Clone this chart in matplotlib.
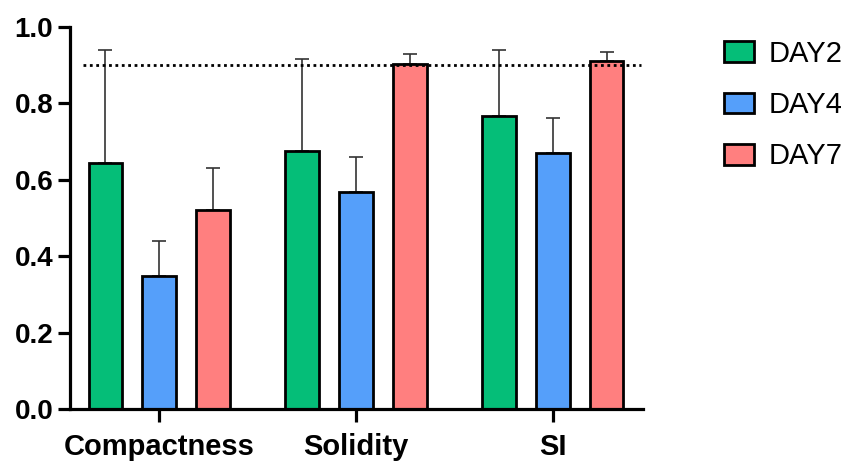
import matplotlib
matplotlib.use("Agg")
import matplotlib.pyplot as plt
import numpy as np

plt.rcParams['font.family'] = ['Liberation Sans', 'DejaVu Sans']

categories = ["Compactness", "Solidity", "SI"]
series = ["DAY2", "DAY4", "DAY7"]
day2 = [0.645, 0.675, 0.768]
day4 = [0.349, 0.569, 0.671]
day7 = [0.521, 0.902, 0.911]
day2_err = [0.296, 0.241, 0.173]
day4_err = [0.090, 0.091, 0.090]
day7_err = [0.109, 0.028, 0.024]
threshold = 0.9
yticks = [0.0, 0.2, 0.4, 0.6, 0.8, 1.0]

colors = ["#05BE78", "#559FFA", "#FF7F7F"]

fig = plt.figure(figsize=(8.53, 4.62), dpi=100)
ax = fig.add_axes([70/853, 1 - 409/462, 573/853, 382/462])

x = np.arange(len(categories))
offset = 0.274
width = 0.168
vals = [day2, day4, day7]
errs = [day2_err, day4_err, day7_err]
for i, (v, e, c, name) in enumerate(zip(vals, errs, colors, series)):
    pos = x + (i - 1) * offset
    ax.errorbar(pos, v, yerr=[np.zeros(len(e)), e], fmt='none', ecolor='#333333',
                elinewidth=1.2, capsize=4.8, capthick=1.2, zorder=1)
    ax.bar(pos, v, width=width, color=c, edgecolor='black', linewidth=2.0,
           label=name, zorder=2)

ax.axhline(threshold, xmin=0.023, xmax=0.997, color='black', linewidth=2.0,
           linestyle=(0, (1, 1.3)), zorder=3)

ax.set_xlim(-0.452, 2.457)
ax.set_ylim(0, 1.0)
ax.set_yticks(yticks)
ax.set_yticklabels([f"{t:.1f}" for t in yticks])
ax.set_xticks(x)
ax.set_xticklabels(categories)
for s in ['top', 'right']:
    ax.spines[s].set_visible(False)
for s in ['left', 'bottom']:
    ax.spines[s].set_linewidth(2.3)
ax.tick_params(axis='both', width=2.3, direction='out')
ax.tick_params(axis='y', length=8.5, pad=3.5)
ax.tick_params(axis='x', length=9, pad=8)
for lab in ax.get_yticklabels():
    lab.set_fontsize(20)
    lab.set_fontweight('bold')
for lab in ax.get_xticklabels():
    lab.set_fontsize(21)
    lab.set_fontweight('bold')

fig.legend(loc='upper left', bbox_to_anchor=(718/853, 1 - 34/462), frameon=False,
           fontsize=21, handlelength=1.05, handleheight=0.72, handletextpad=0.5,
           labelspacing=0.8, borderaxespad=0, borderpad=0.2)

fig.savefig("out.png", dpi=100)
